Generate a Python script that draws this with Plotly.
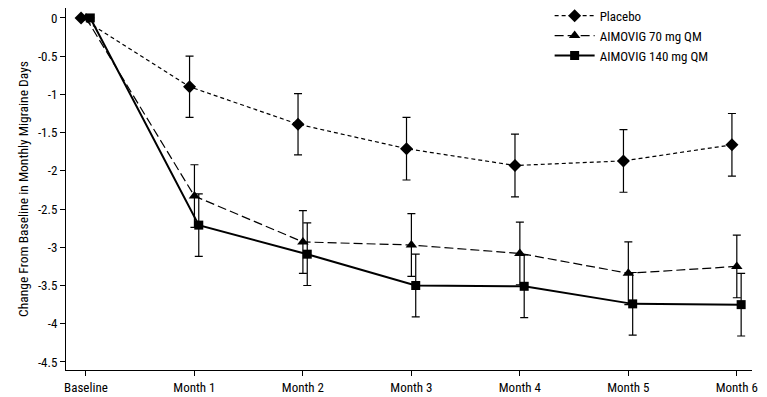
import plotly.graph_objects as go

categories = ["Baseline", "Month 1", "Month 2", "Month 3", "Month 4", "Month 5", "Month 6"]
placebo = [0, -0.90, -1.39, -1.71, -1.93, -1.87, -1.66]
placebo_err = [0, 0.40, 0.40, 0.41, 0.41, 0.41, 0.41]
aim70 = [0, -2.33, -2.93, -2.97, -3.08, -3.34, -3.25]
aim70_err = [0, 0.41, 0.41, 0.41, 0.41, 0.41, 0.41]
aim140 = [0, -2.71, -3.09, -3.50, -3.51, -3.74, -3.75]
aim140_err = [0, 0.41, 0.41, 0.41, 0.41, 0.41, 0.41]
ytick_vals = [0, -0.5, -1, -1.5, -2, -2.5, -3, -3.5, -4, -4.5]

FONT = "Roboto Condensed, Liberation Sans Narrow, Arial Narrow, Liberation Sans, sans-serif"

def xs(offset):
    return [i + offset for i in range(len(categories))]

fig = go.Figure()
series = [
    ("Placebo", placebo, placebo_err, -0.045, "diamond", 10, dict(dash="4px,3px", width=1.2)),
    ("AIMOVIG 70 mg QM", aim70, aim70_err, 0.0, "triangle-up", 10, dict(dash="9px,4px", width=1.2)),
    ("AIMOVIG 140 mg QM", aim140, aim140_err, 0.04, "square", 9, dict(dash="solid", width=2)),
]
for name, vals, err, off, sym, size, line in series:
    fig.add_trace(go.Scatter(
        x=xs(off), y=vals, name=name, mode="lines+markers",
        line=dict(color="black", **line),
        marker=dict(symbol=sym, size=size, color="black"),
        error_y=dict(type="data", array=err, visible=True, color="black", thickness=1.2, width=4),
    ))

fig.update_layout(
    width=767, height=397,
    margin=dict(l=66, r=15, t=8, b=27, autoexpand=False),
    paper_bgcolor="white", plot_bgcolor="white",
    font=dict(family=FONT, size=13, color="black"),
    showlegend=True,
    legend=dict(x=0.705, y=1.02, xanchor="left", yanchor="top",
                bgcolor="rgba(0,0,0,0)", font=dict(size=13, family=FONT),
                tracegroupgap=0, itemwidth=40),
    xaxis=dict(range=[-0.184, 6.14], tickvals=list(range(len(categories))), ticktext=categories,
               showgrid=False, zeroline=False, showline=True, linecolor="black", linewidth=1,
               ticks="outside", ticklen=5, tickcolor="black", automargin=False,
               tickfont=dict(size=13, family=FONT)),
    yaxis=dict(range=[-4.605, 0.13], tickvals=ytick_vals, ticktext=[f"{v:g}" for v in ytick_vals],
               showgrid=False, zeroline=False, showline=True, linecolor="black", linewidth=1,
               ticks="outside", ticklen=5, tickcolor="black", automargin=False,
               tickfont=dict(size=13, family=FONT),
               title=dict(text="Change From Baseline in Monthly Migraine Days", standoff=6,
                          font=dict(size=13.5, family=FONT))),
)

fig.write_html("out.html", config={"displayModeBar": False},
               post_script="document.body.style.margin='0';document.body.style.overflow='hidden';")
